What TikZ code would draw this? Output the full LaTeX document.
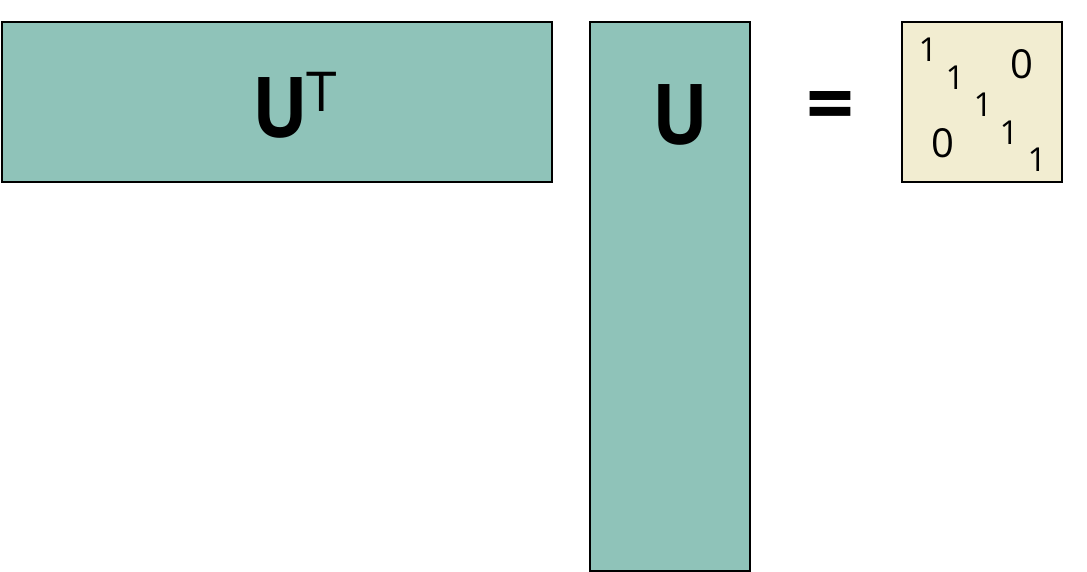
\documentclass[tikz,border=0pt]{standalone}
\usepackage{fontspec}
\setmainfont{Open Sans}
\definecolor{teal}{HTML}{8FC3B9}
\definecolor{cream}{HTML}{F2EDD1}
\tikzset{
  mat/.style={draw=black, line width=2.5pt, inner sep=0pt, fill=teal},
  idm/.style={draw=black, line width=2.5pt, inner sep=0pt, fill=cream},
  big/.style={inner sep=0pt, font=\fontsize{84}{84}\selectfont\bfseries},
  sup/.style={inner sep=0pt, font=\fontsize{55}{55}\selectfont},
  one/.style={inner sep=0pt, font=\fontsize{33}{33}\selectfont},
  zero/.style={inner sep=0pt, font=\fontsize{40}{40}\selectfont},
}
\begin{document}
\begin{tikzpicture}[x=1pt,y=-1pt]
\useasboundingbox (0,0) rectangle (1087,572);
\node[mat, minimum width=550pt, minimum height=160pt] (ut) at (277,102) {};
\node[mat, minimum width=160pt, minimum height=549pt] (u) at (670,296.5) {};
\node[idm, minimum width=160pt, minimum height=160pt] (id) at (982,102) {};
\node[big] (utl) at (280,108) {\scalebox{0.88}[1]{U}};
\node[sup] (tl) at (322,92) {T};
\node[big] (ul) at (680,115) {\scalebox{0.88}[1]{U}};
\node[big] (eq) at (830,113) {=};
\node[one] (a1) at (928,50) {1};
\node[one] (a2) at (955,78) {1};
\node[one] (a3) at (983,105) {1};
\node[one] (a4) at (1009,133) {1};
\node[one] (a5) at (1037,160) {1};
\node[zero] (z1) at (1022,64) {0};
\node[zero] (z2) at (943,143) {0};
\end{tikzpicture}
\end{document}
